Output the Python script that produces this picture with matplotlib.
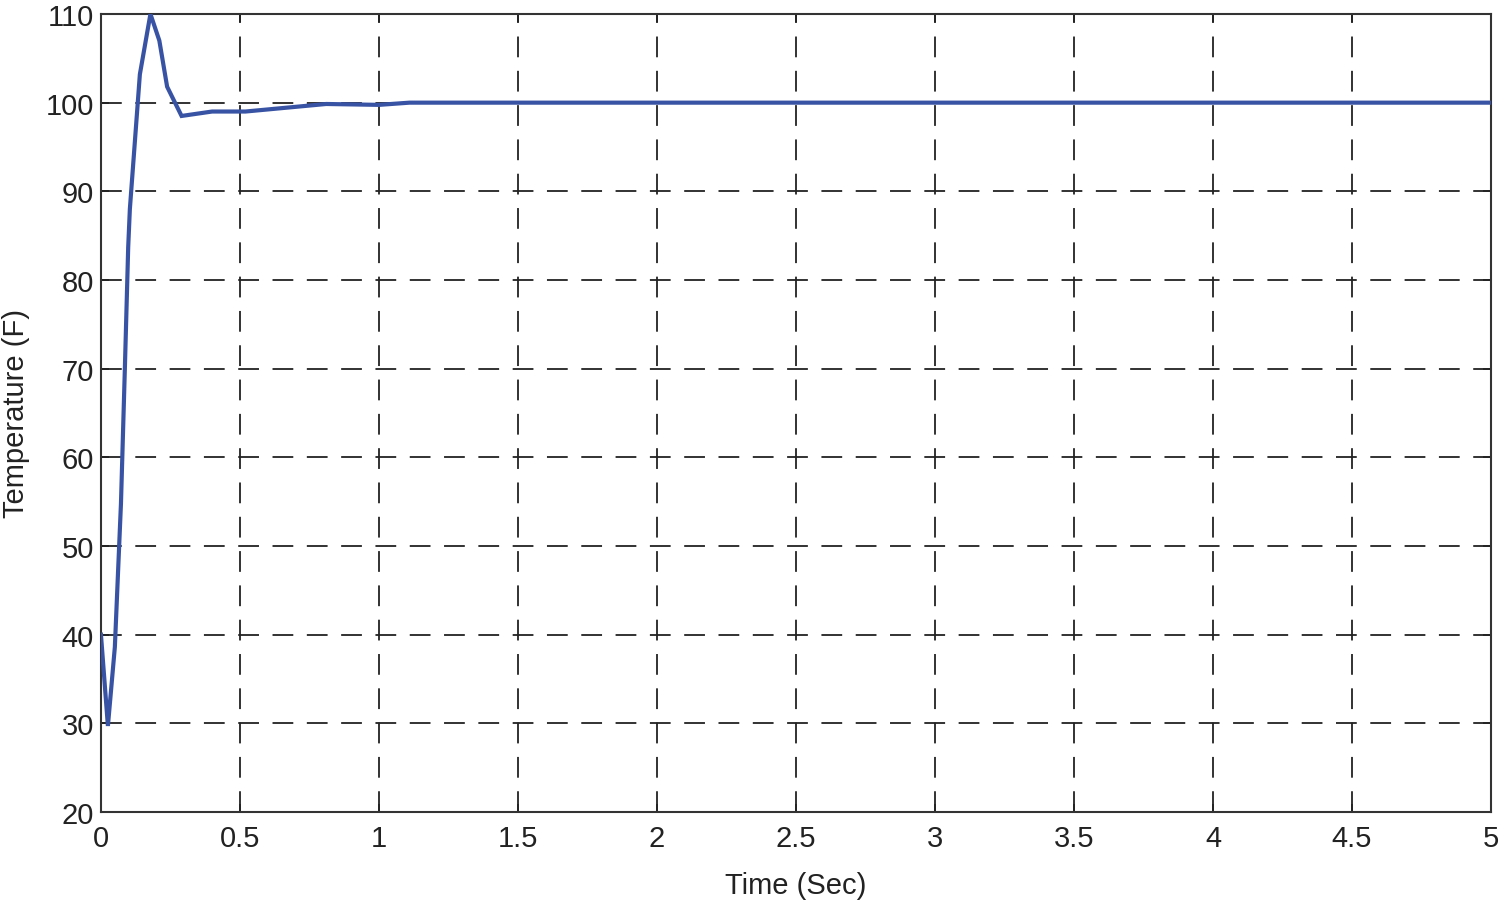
import matplotlib
matplotlib.use("Agg")
import matplotlib.pyplot as plt

# step response
time_s = [0.0, 0.025, 0.05, 0.072, 0.086, 0.098, 0.104, 0.14, 0.178, 0.21,
          0.238, 0.29, 0.40, 0.52, 0.81, 1.0, 1.11, 2.0, 3.0, 4.0, 5.0]
temp_f = [40.0, 29.7, 38.6, 54.8, 70.0, 83.7, 88.0, 103.2, 110.0, 107.0,
          101.8, 98.5, 99.0, 99.0, 99.85, 99.75, 100.0, 100.0, 100.0, 100.0, 100.0]

x_ticks = [0, 0.5, 1, 1.5, 2, 2.5, 3, 3.5, 4, 4.5, 5]
x_labels = ["0", "0.5", "1", "1.5", "2", "2.5", "3", "3.5", "4", "4.5", "5"]
y_ticks = [20, 30, 40, 50, 60, 70, 80, 90, 100, 110]

plt.rcParams["font.family"] = ["Liberation Sans", "DejaVu Sans"]

fig = plt.figure(figsize=(15, 9.03), dpi=100)
ax = fig.add_axes([0.0673, 0.0997, 0.9267, 0.8837])

ax.plot(time_s, temp_f, color="#3953a4", lw=3.0, solid_joinstyle="miter", zorder=3)

ax.set_xlim(0, 5)
ax.set_ylim(20, 110)
ax.set_xticks(x_ticks)
ax.set_xticklabels(x_labels)
ax.set_yticks(y_ticks)

ax.grid(True, color="#222222", lw=1.3, linestyle=(0, (11.5, 7.5)))
ax.tick_params(direction="in", length=6, width=1.3, labelsize=21,
               top=True, right=True, colors="#222222")
ax.tick_params(axis="x", pad=9)
ax.tick_params(axis="y", pad=5)
for sp in ax.spines.values():
    sp.set_linewidth(1.5)
    sp.set_color("#333333")

ax.set_xlabel("Time (Sec)", fontsize=21, labelpad=13, color="#222222")
ax.set_ylabel("Temperature (F)", fontsize=21, labelpad=11, color="#222222")

fig.savefig("out.png", dpi=100)
plt.close(fig)
